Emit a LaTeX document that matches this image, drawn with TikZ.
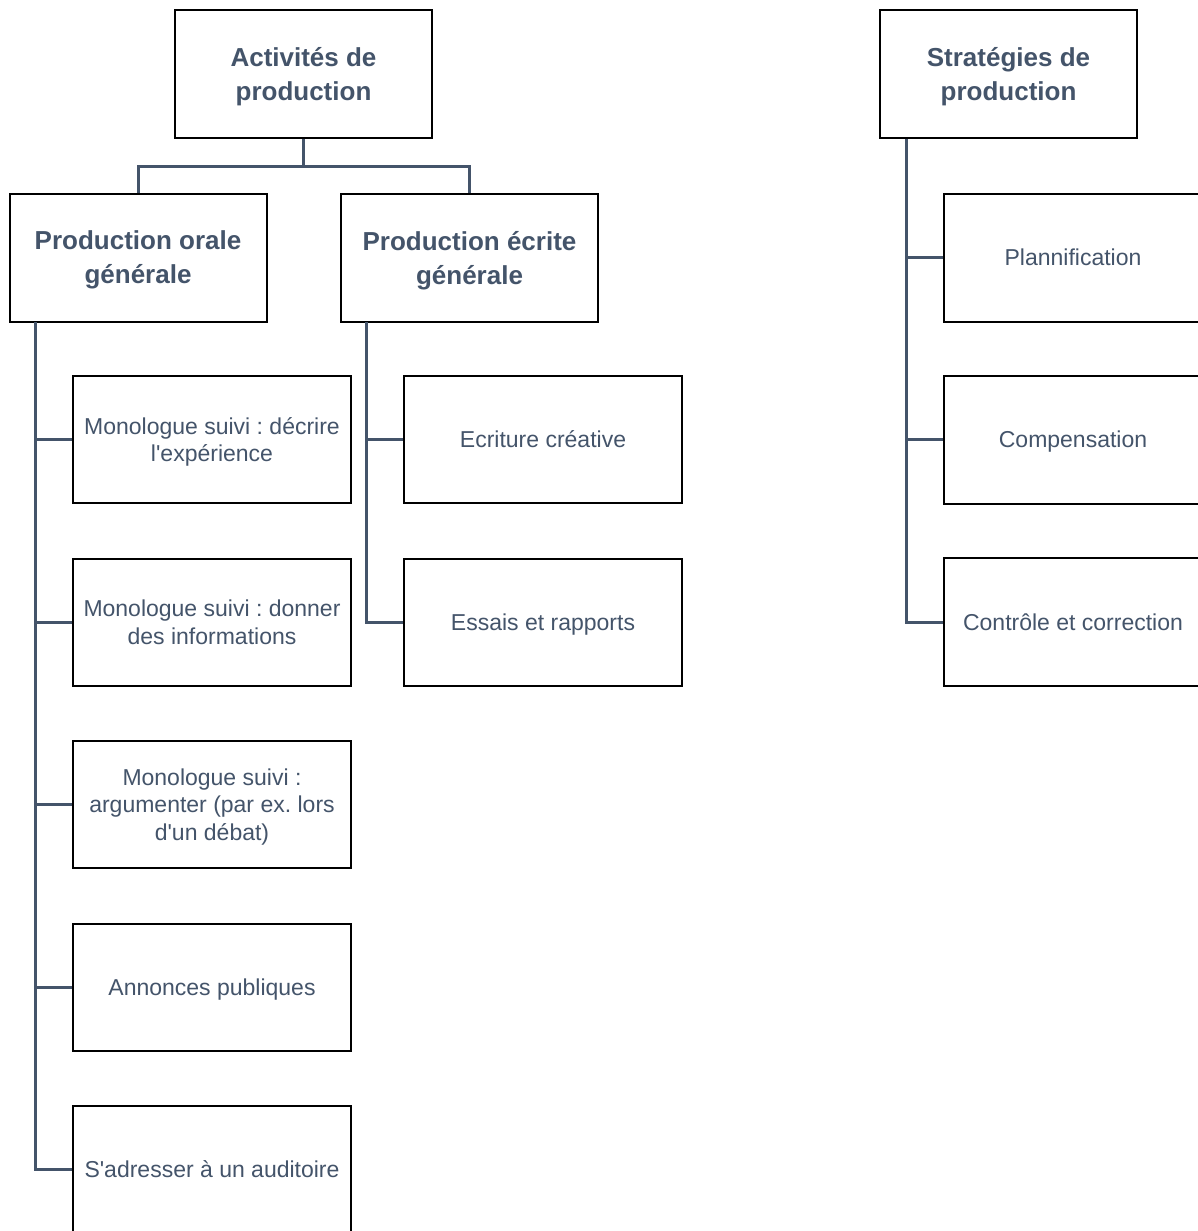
\documentclass[tikz,border=0pt]{standalone}
\usepackage{fontspec}
\setmainfont{Liberation Sans}[Ligatures=TeXOff]
\definecolor{txt}{HTML}{44546A}
\frenchspacing
\begin{document}
\begin{tikzpicture}[x=1pt,y=-1pt,
  box/.style={draw=black,line width=2pt,rectangle,fill=white,inner sep=4pt,
    align=center,text=txt,text depth=0pt,font=\frenchspacing\fontsize{23}{27.5}\selectfont},
  headbox/.style={box,minimum width=257pt,minimum height=128pt,
    font=\frenchspacing\bfseries\fontsize{26}{34}\selectfont},
  leafbox/.style={box,minimum width=278pt,minimum height=127pt},
  sleafbox/.style={box,minimum width=258pt,minimum height=128pt},
  conn/.style={draw=txt,line width=3pt}]
\useasboundingbox (0,0) rectangle (1198,1231);
\clip (0,0) rectangle (1198,1231);
% connectors (drawn first, boxes on top)
\coordinate (j) at (303.5,166);
\coordinate (ot) at (35,322);
\coordinate (et) at (366.5,322);
\coordinate (st) at (906,139);
% heads
\node[headbox] (act) at (303.5,74) {Activités de\\production};
\node[headbox] (orale) at (138,257.5) {Production orale\\générale};
\node[headbox] (ecrite) at (469.5,257.5) {Production écrite\\générale};
\node[headbox] (strat) at (1008.5,74) {Stratégies de\\production};
% orale children
\node[leafbox] (o1) at (212,439.5) {Monologue suivi : décrire\\l'expérience};
\node[leafbox] (o2) at (212,622) {Monologue suivi : donner\\des informations};
\node[leafbox] (o3) at (212,804.5) {Monologue suivi :\\argumenter (par ex. lors\\d'un débat)};
\node[leafbox] (o4) at (212,987) {Annonces publiques};
\node[leafbox] (o5) at (212,1169.5) {S'adresser à un auditoire};
% ecrite children
\node[leafbox] (e1) at (543,439.5) {Ecriture créative};
\node[leafbox] (e2) at (543,622) {Essais et rapports};
% strategies children
\node[sleafbox] (s1) at (1073,257.5) {Plannification};
\node[sleafbox] (s2) at (1073,439.5) {Compensation};
\node[sleafbox] (s3) at (1073,622) {Contrôle et correction};
% connectors
\draw[conn] (act.south) -- (j) -| (orale.north);
\draw[conn] (j) -| (ecrite.north);
\draw[conn] (ot) |- (o5.west);
\foreach \n in {o1,o2,o3,o4}{\draw[conn] (\n.west -| ot) -- (\n.west);}
\draw[conn] (et) |- (e2.west);
\draw[conn] (e1.west -| et) -- (e1.west);
\draw[conn] (st) |- (s3.west);
\foreach \n in {s1,s2}{\draw[conn] (\n.west -| st) -- (\n.west);}
\end{tikzpicture}
\end{document}
